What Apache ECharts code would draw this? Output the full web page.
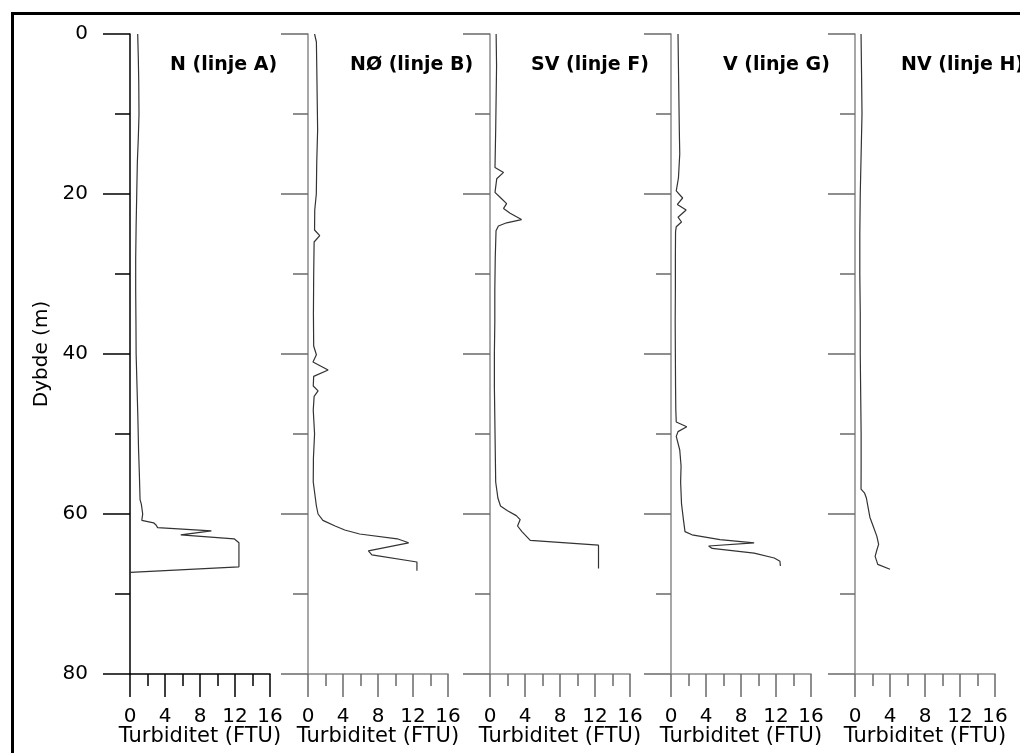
<!DOCTYPE html>
<html>
<head>
<meta charset="utf-8">
<script src="https://cdn.jsdelivr.net/npm/echarts@6/dist/echarts.min.js"></script>
<style>
  html, body { margin: 0; padding: 0; background: #fff; }
  #chart { width: 1020px; height: 753px; }
</style>
</head>
<body>
<div id="chart"></div>
<script>
// panel titles (station / line)
const panelTitles = ['N (linje A)', 'NØ (linje B)', 'SV (linje F)', 'V (linje G)', 'NV (linje H)'];

// axis ticks
const depthTicks = [0, 20, 40, 60, 80];
const turbTicks = [0, 4, 8, 12, 16];

// N (linje A)
const depthA = [0, 3, 6, 10, 13, 16, 20, 24, 28, 32, 36, 40, 44, 48, 52, 55, 58.2, 58.8, 60, 60.8, 61.1, 61.4, 61.7, 62.1, 62.6, 63.1, 63.6, 66.6, 67.3];
const turbA = [0.88, 0.95, 1.0, 1.03, 0.95, 0.84, 0.77, 0.7, 0.65, 0.65, 0.68, 0.7, 0.8, 0.9, 0.98, 1.07, 1.15, 1.3, 1.45, 1.35, 2.7, 3.0, 3.15, 9.3, 5.8, 11.9, 12.45, 12.45, 0.05];

// NØ (linje B)
const depthB = [0, 1, 4, 8, 12, 16, 20, 22, 24.5, 25.2, 26, 30, 35, 39, 40.1, 41, 42, 42.8, 44, 44.6, 45.3, 47, 50, 53, 56, 59, 60, 60.8, 61.5, 62, 62.5, 63.1, 63.6, 64.6, 65.1, 66.0, 67.1];
const turbB = [0.75, 0.96, 1.0, 1.05, 1.1, 1.0, 0.95, 0.77, 0.75, 1.34, 0.7, 0.65, 0.62, 0.65, 0.96, 0.57, 2.3, 0.65, 0.6, 1.15, 0.7, 0.6, 0.75, 0.62, 0.6, 0.96, 1.15, 1.7, 3.1, 4.2, 5.9, 10.2, 11.5, 6.9, 7.3, 12.45, 12.45];

// SV (linje F)
const depthF = [0, 4, 8, 12, 16.7, 17.3, 18.1, 19.8, 20.4, 21.2, 21.8, 22.4, 23.2, 23.6, 24.0, 24.6, 28, 32, 36, 40, 44, 48, 52, 56, 58, 59, 59.6, 60.2, 60.7, 61.5, 62.2, 63.3, 63.9, 66.8];
const turbF = [0.7, 0.75, 0.7, 0.65, 0.57, 1.55, 0.77, 0.57, 1.15, 1.9, 1.55, 2.3, 3.6, 1.9, 0.96, 0.69, 0.6, 0.55, 0.55, 0.5, 0.5, 0.55, 0.6, 0.65, 0.9, 1.2, 2.0, 3.0, 3.45, 3.15, 3.65, 4.6, 12.4, 12.4];

// V (linje G)
const depthG = [0, 4, 8, 12, 15, 18, 19.6, 20.5, 21.3, 22.0, 22.9, 23.5, 24.1, 24.7, 28, 32, 36, 40, 44, 47, 48.5, 49.1, 49.7, 50.3, 52, 54, 56, 58.7, 60.7, 62.2, 62.6, 63.2, 63.6, 64.0, 64.3, 64.9, 65.5, 65.9, 66.5];
const turbG = [0.8, 0.85, 0.9, 0.95, 1.0, 0.85, 0.6, 1.33, 0.73, 1.73, 0.8, 1.2, 0.6, 0.52, 0.5, 0.5, 0.48, 0.5, 0.52, 0.55, 0.6, 1.8, 0.8, 0.6, 1.0, 1.15, 1.1, 1.2, 1.42, 1.6, 2.4, 5.6, 9.5, 4.3, 4.7, 9.5, 11.8, 12.45, 12.5];

// NV (linje H)
const depthH = [0, 5, 10, 15, 20, 25, 30, 35, 40, 45, 50, 54, 56.9, 57.4, 58, 59.2, 60.4, 61.6, 62.8, 63.8, 64.5, 65.3, 66.3, 66.9];
const turbH = [0.69, 0.75, 0.8, 0.7, 0.6, 0.55, 0.55, 0.6, 0.6, 0.65, 0.7, 0.7, 0.69, 1.1, 1.3, 1.5, 1.7, 2.1, 2.5, 2.7, 2.5, 2.3, 2.6, 4.0];

const profiles = [[depthA, turbA], [depthB, turbB], [depthF, turbF], [depthG, turbG], [depthH, turbH]];

// layout
const panelLeft = [130, 308, 490, 671, 855];
const titleLeft = [170, 350, 531, 723, 901];
const plotTop = 34, plotW = 140, plotH = 640;
const font = 'DejaVu Sans';

const grids = [], xAxes = [], yAxes = [], series = [], titles = [];

profiles.forEach(([depth, turb], i) => {
  const first = i === 0;
  const axisColor = first ? '#000' : '#8a8a8a';
  const tickColor = first ? '#000' : '#6a6a6a';

  grids.push({ left: panelLeft[i], top: plotTop, width: plotW, height: plotH, outerBoundsMode: 'none' });

  xAxes.push({
    gridIndex: i,
    type: 'value',
    min: turbTicks[0],
    max: turbTicks[turbTicks.length - 1],
    interval: turbTicks[1] - turbTicks[0],
    position: 'bottom',
    name: 'Turbiditet (FTU)',
    nameLocation: 'middle',
    nameGap: 52,
    nameMoveOverlap: false,
    nameTextStyle: { color: '#000', fontFamily: font, fontSize: 21 },
    axisLine: { onZero: false, lineStyle: { color: axisColor, width: 1.5 } },
    axisTick: { length: 23, lineStyle: { color: tickColor, width: 1.5 } },
    minorTick: { show: true, splitNumber: 2, length: 12, lineStyle: { color: tickColor, width: 1.5 } },
    axisLabel: { margin: 33, color: '#000', fontFamily: font, fontSize: 20, showMinLabel: true, showMaxLabel: true },
    splitLine: { show: false }
  });

  yAxes.push({
    gridIndex: i,
    type: 'value',
    inverse: true,
    min: depthTicks[0],
    max: depthTicks[depthTicks.length - 1],
    interval: depthTicks[1] - depthTicks[0],
    name: first ? 'Dybde (m)' : '',
    nameLocation: 'middle',
    nameGap: 78,
    nameMoveOverlap: false,
    nameTextStyle: { color: '#000', fontFamily: font, fontSize: 20 },
    axisLine: { show: true, onZero: false, lineStyle: { color: axisColor, width: 1.5 } },
    axisTick: { length: 27, lineStyle: { color: tickColor, width: 1.5 } },
    minorTick: { show: true, splitNumber: 2, length: 15, lineStyle: { color: tickColor, width: 1.5 } },
    axisLabel: { show: first, margin: 42, color: '#000', fontFamily: font, fontSize: 20 },
    splitLine: { show: false }
  });

  series.push({
    type: 'line',
    xAxisIndex: i,
    yAxisIndex: i,
    data: depth.map((d, k) => [turb[k], d]),
    showSymbol: false,
    silent: true,
    lineStyle: { color: '#333', width: 1.2 }
  });

  titles.push({
    text: panelTitles[i],
    left: titleLeft[i],
    top: 56,
    padding: 0,
    textStyle: { color: '#000', fontFamily: font, fontWeight: 'bold', fontSize: 19 }
  });
});

const chart = echarts.init(document.getElementById('chart'));
chart.setOption({
  animation: false,
  backgroundColor: '#fff',
  title: titles,
  grid: grids,
  xAxis: xAxes,
  yAxis: yAxes,
  series: series,
  graphic: [{
    type: 'rect',
    silent: true,
    shape: { x: 12.5, y: 13.5, width: 1030, height: 760 },
    style: { fill: 'none', stroke: '#000', lineWidth: 3 }
  }]
});
</script>
</body>
</html>
